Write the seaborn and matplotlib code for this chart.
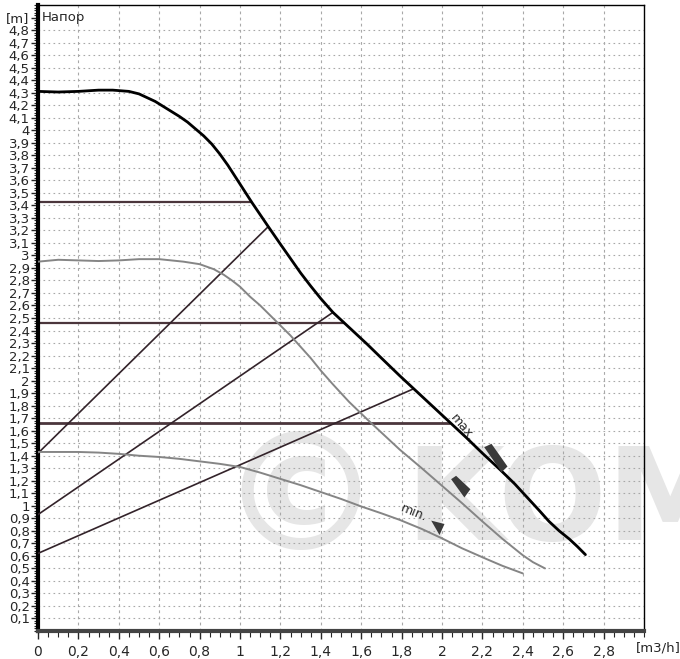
import numpy as np
import pandas as pd
import matplotlib
matplotlib.use("Agg")
import matplotlib.pyplot as plt
import seaborn as sns
from matplotlib.ticker import MultipleLocator, FixedLocator
from matplotlib.path import Path

# pump curves (flow m3/h, head m)
max_q = [0.0, 0.1, 0.2, 0.3, 0.37, 0.45, 0.5, 0.54, 0.58, 0.62, 0.66, 0.70, 0.74, 0.78,
         0.82, 0.86, 0.90, 0.94, 0.98, 1.02, 1.06, 1.10, 1.14, 1.20, 1.25, 1.30, 1.35,
         1.40, 1.46, 1.52, 1.57, 1.63, 1.70, 1.79, 1.86, 1.95, 2.04, 2.12, 2.20, 2.29,
         2.36, 2.42, 2.48, 2.53, 2.58, 2.63, 2.67, 2.71]
max_h = [4.31, 4.305, 4.31, 4.32, 4.32, 4.31, 4.29, 4.26, 4.23, 4.19, 4.15, 4.11, 4.065, 4.01,
         3.955, 3.89, 3.81, 3.72, 3.62, 3.52, 3.42, 3.325, 3.23, 3.09, 2.975, 2.86, 2.755,
         2.655, 2.545, 2.455, 2.38, 2.29, 2.18, 2.04, 1.935, 1.80, 1.665, 1.545, 1.42, 1.285,
         1.175, 1.07, 0.965, 0.875, 0.80, 0.735, 0.675, 0.61]
mid_q = [0.0, 0.1, 0.2, 0.3, 0.4, 0.5, 0.6, 0.66, 0.72, 0.80, 0.87, 0.92, 0.96, 1.0, 1.05,
         1.10, 1.15, 1.20, 1.25, 1.30, 1.35, 1.40, 1.46, 1.54, 1.63, 1.70, 1.79, 1.90, 2.0,
         2.1, 2.2, 2.3, 2.4, 2.45, 2.51]
mid_h = [2.95, 2.965, 2.96, 2.955, 2.96, 2.97, 2.97, 2.96, 2.95, 2.93, 2.89, 2.845, 2.80, 2.75,
         2.67, 2.60, 2.52, 2.44, 2.36, 2.27, 2.18, 2.08, 1.97, 1.83, 1.69, 1.585, 1.45, 1.30,
         1.16, 1.02, 0.875, 0.735, 0.605, 0.55, 0.50]
min_q = [0.0, 0.1, 0.2, 0.3, 0.4, 0.5, 0.6, 0.7, 0.8, 0.9, 1.0, 1.1, 1.2, 1.3, 1.4, 1.5,
         1.6, 1.7, 1.79, 1.9, 2.0, 2.1, 2.23, 2.3, 2.40]
min_h = [1.43, 1.43, 1.43, 1.425, 1.415, 1.40, 1.39, 1.375, 1.355, 1.335, 1.31, 1.265, 1.215,
         1.165, 1.11, 1.055, 0.995, 0.94, 0.888, 0.815, 0.74, 0.66, 0.568, 0.52, 0.46]

# system lines: start head at q=0 and end point on the max curve
sys_start = [1.42, 0.93, 0.62]
sys_end_q = [1.14, 1.46, 1.86]
sys_end_h = [3.23, 2.545, 1.935]

# horizontal levels and where they meet the max curve
level_h = [3.43, 2.46, 1.66]
level_q = [1.056, 1.52, 2.04]

# speed arrow symbols
arrow_q = [2.26, 2.09, 1.98]
arrow_h = [1.39, 1.17, 0.84]

y_ticks = [round(0.1 * i, 1) for i in range(1, 50)]
y_labels = [f"{v:g}".replace(".", ",") for v in y_ticks[:-1]] + ["[m]"]
x_ticks = [round(0.2 * i, 1) for i in range(0, 15)]
x_labels = [f"{v:g}".replace(".", ",") for v in x_ticks]

sns.set_style("white")
plt.rcParams["font.family"] = ["DejaVu Sans"]

fig = plt.figure(figsize=(6.8, 6.59), dpi=100)
ax = fig.add_axes([38 / 680, 28 / 659, 606 / 680, 626 / 659])

# watermark, behind everything in the axes
ax.text(300 / 680, 154 / 659, "\u00a9", fontsize=118, color="#e6e6e6",
        ha="center", va="center", zorder=0.5, fontweight="bold",
        transform=fig.transFigure, clip_on=False)
ax.text(405 / 680, 154 / 659, "KOM", fontsize=92, color="#e6e6e6",
        ha="left", va="center", zorder=0.5, fontweight="bold",
        transform=fig.transFigure, clip_on=False)

ax.set_xlim(0, 3.0)
ax.set_ylim(0, 5.0)

# grid
for v in y_ticks[:-1]:
    ax.axhline(v, color="#a8a8a8", lw=0.8, ls=(0, (1.5, 3)), zorder=1)
for v in x_ticks[1:]:
    ax.axvline(v, color="#a8a8a8", lw=0.8, ls=(0, (2.5, 3)), zorder=1)

for h, q in zip(level_h, level_q):
    ax.hlines(h, 0, q, color="#4b363c", lw=1.6 if h > 2 else 2.0, zorder=2)

for s, q, h in zip(sys_start, sys_end_q, sys_end_h):
    sns.lineplot(x=[0, q], y=[s, h], ax=ax, color="#33232a", lw=1.2, zorder=3)

sns.lineplot(x=mid_q, y=mid_h, ax=ax, color="#858585", lw=1.4, zorder=3)
sns.lineplot(x=min_q, y=min_h, ax=ax, color="#858585", lw=1.4, zorder=3)
sns.lineplot(x=max_q, y=max_h, ax=ax, color="black", lw=2.0, zorder=4)

# arrow symbol shapes (pixel offsets around centre, y up)
shapes = [
    Path([(-11.3, 10.3), (-4, 13.7), (12, -9), (6, -14.7), (-11.3, 10.3)]),
    Path([(-9.4, 6.3), (-4.4, 9.7), (9.9, -3.7), (3.9, -12), (-9.4, 6.3)]),
    Path([(-7.3, 5.9), (6, 2.5), (1, -8.5), (-7.3, 5.9)]),
]
sizes = [(29.4 / 1.389) ** 2, (24 / 1.389) ** 2, (17 / 1.389) ** 2]
for q, h, shp, sz in zip(arrow_q, arrow_h, shapes, sizes):
    ax.scatter([q], [h], marker=shp, s=sz, color="#3a3a3a", zorder=5, linewidths=0)

ax.text(2.10, 1.62, "max.", fontsize=9, rotation=-50, ha="center", va="center", zorder=6)
ax.text(1.86, 0.94, "min.", fontsize=9, rotation=-22, ha="center", va="center", zorder=6)
ax.text(0.02, 4.90, "Напор", fontsize=9.5, ha="left", va="center", zorder=6)

ax.yaxis.set_major_locator(FixedLocator(y_ticks))
ax.set_yticklabels(y_labels, fontsize=9.5)
ax.yaxis.set_minor_locator(MultipleLocator(0.02))
ax.xaxis.set_major_locator(FixedLocator(x_ticks))
ax.set_xticklabels(x_labels, fontsize=10)
ax.xaxis.set_minor_locator(MultipleLocator(0.05))
ax.tick_params(axis="y", which="major", length=5, width=1, pad=1, direction="out", left=True)
ax.tick_params(axis="y", which="minor", length=3, width=0.8, direction="out", left=True)
ax.tick_params(axis="x", which="major", length=6, width=1, pad=4, direction="out", bottom=True)
ax.tick_params(axis="x", which="minor", length=4, width=0.8, direction="out", bottom=True)

ax.spines["left"].set_linewidth(3)
ax.spines["left"].set_color("black")
ax.spines["bottom"].set_linewidth(3)
ax.spines["bottom"].set_color("#444444")
ax.spines["top"].set_linewidth(1)
ax.spines["right"].set_linewidth(1)
ax.spines["top"].set_color("black")
ax.spines["right"].set_color("black")

fig.text(658 / 680, 11 / 659, "[m3/h]", fontsize=9.5, ha="center", va="center")

fig.savefig("out.png", dpi=100)
